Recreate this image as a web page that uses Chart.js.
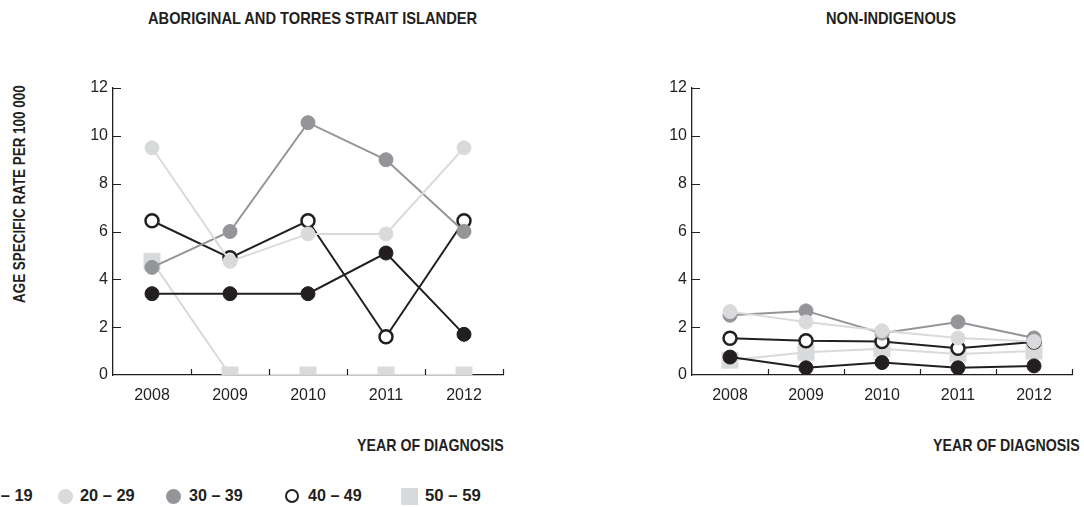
<!DOCTYPE html>
<html>
<head>
<meta charset="utf-8">
<script src="https://cdn.jsdelivr.net/npm/chart.js@4.4.1/dist/chart.umd.min.js"></script>
<style>
  body { margin: 0; background: #fff; width: 1084px; height: 507px; overflow: hidden; position: relative;
         font-family: "Liberation Sans", Arial, sans-serif; color: #231f20; }
  .box { position: absolute; }
  .ttl, .leg { position: absolute; font-weight: bold; font-size: 17px; line-height: 17px; white-space: nowrap; transform-origin: 0 0; }
  .mk { position: absolute; }
</style>
</head>
<body>
<div class="ttl" data-w="329" style="left:148px; top:10px;">ABORIGINAL AND TORRES STRAIT ISLANDER</div>
<div class="ttl" data-w="130" style="left:826px; top:10px;">NON-INDIGENOUS</div>
<div class="ttl" id="yTitle" data-w="218" data-rot="1" style="left:11px; top:303px;">AGE SPECIFIC RATE PER 100 000</div>
<div class="ttl" data-w="147" style="left:357px; top:437px;">YEAR OF DIAGNOSIS</div>
<div class="ttl" data-w="147" style="left:933px; top:437px;">YEAR OF DIAGNOSIS</div>

<div class="box" style="left:0; top:0; width:540px; height:420px;"><canvas id="leftChart"></canvas></div>
<div class="box" style="left:560px; top:0; width:524px; height:420px;"><canvas id="rightChart"></canvas></div>

<!-- legend -->
<div class="mk" style="left:-47px; top:489px; width:15px; height:15px; border-radius:50%; background:#231f20;"></div>
<div class="leg" data-w="55" style="left:-22px; top:487px;">10 – 19</div>
<div class="mk" style="left:58px; top:489px; width:15px; height:15px; border-radius:50%; background:#d9dadb;"></div>
<div class="leg" data-w="55" style="left:80px; top:487px;">20 – 29</div>
<div class="mk" style="left:166px; top:489px; width:15px; height:15px; border-radius:50%; background:#939598;"></div>
<div class="leg" data-w="54" style="left:189px; top:487px;">30 – 39</div>
<div class="mk" style="left:285px; top:489px; width:10px; height:10px; border-radius:50%; border:2.5px solid #231f20; background:#fff;"></div>
<div class="leg" data-w="54" style="left:308px; top:487px;">40 – 49</div>
<div class="mk" style="left:401px; top:488px; width:17px; height:17px; background:#d9dadb;"></div>
<div class="leg" data-w="56" style="left:425px; top:487px;">50 – 59</div>

<script>
const years = ['2008', '2009', '2010', '2011', '2012'];
const ageGroups = ['10 – 19', '20 – 29', '30 – 39', '40 – 49', '50 – 59'];
const yTicks = [0, 2, 4, 6, 8, 10, 12];

// Aboriginal and Torres Strait Islander
const atsi10to19 = [3.4, 3.4, 3.4, 5.1, 1.7];
const atsi20to29 = [9.5, 4.75, 5.9, 5.9, 9.5];
const atsi30to39 = [4.5, 6.0, 10.55, 9.0, 6.0];
const atsi40to49 = [6.45, 4.9, 6.45, 1.6, 6.45];
const atsi50to59 = [4.75, 0, 0, 0, 0];

// Non-Indigenous
const non10to19 = [0.75, 0.3, 0.52, 0.3, 0.38];
const non20to29 = [2.65, 2.22, 1.85, 1.55, 1.4];
const non30to39 = [2.5, 2.68, 1.75, 2.22, 1.55];
const non40to49 = [1.54, 1.43, 1.4, 1.12, 1.38];
const non50to59 = [0.62, 0.95, 1.1, 0.88, 1.0];

const BLACK = '#231f20';
const LIGHT = '#d9dadb';
const MID = '#939598';
const FONT = '"Liberation Sans", Arial, sans-serif';

// squeeze the bold labels to the condensed widths of the original
document.querySelectorAll('[data-w]').forEach(el => {
    const k = Number(el.dataset.w) / el.offsetWidth;
    el.style.transform = el.dataset.rot ? `rotate(-90deg) scaleX(${k})` : `scaleX(${k})`;
});

function buildDatasets(s10, s20, s30, s40, s50) {
    return [
        { label: ageGroups[0], data: s10, borderColor: BLACK, backgroundColor: BLACK, pointBackgroundColor: BLACK,
          pointBorderColor: BLACK, pointRadius: 7, pointBorderWidth: 1, order: 3 },
        { label: ageGroups[1], data: s20, borderColor: LIGHT, backgroundColor: LIGHT, pointBackgroundColor: LIGHT,
          pointBorderColor: LIGHT, pointRadius: 7, pointBorderWidth: 1, order: 1 },
        { label: ageGroups[2], data: s30, borderColor: MID, backgroundColor: MID, pointBackgroundColor: MID,
          pointBorderColor: MID, pointRadius: 7, pointBorderWidth: 1, order: 2 },
        { label: ageGroups[3], data: s40, borderColor: BLACK, backgroundColor: '#fff', pointBackgroundColor: '#fff',
          pointBorderColor: BLACK, pointRadius: 6.5, pointBorderWidth: 2.5, order: 4 },
        { label: ageGroups[4], data: s50, borderColor: LIGHT, backgroundColor: LIGHT, pointBackgroundColor: LIGHT,
          pointBorderColor: LIGHT, pointRadius: 12, pointStyle: 'rect', pointBorderWidth: 0, order: 5 }
    ];
}

// draw small tick marks pointing into the plot area
const innerTicks = {
    id: 'innerTicks',
    afterDraw(chart) {
        const ctx = chart.ctx;
        const x = chart.scales.x, y = chart.scales.y;
        const area = chart.chartArea;
        ctx.save();
        ctx.strokeStyle = BLACK;
        ctx.lineWidth = 1.2;
        ctx.beginPath();
        yTicks.forEach(v => {
            if (v === 0) return;
            const py = Math.round(y.getPixelForValue(v)) + 0.5;
            ctx.moveTo(area.left, py);
            ctx.lineTo(area.left + 8, py);
        });
        for (let i = 1; i <= years.length; i++) {
            const px = Math.round(x.getPixelForValue(i - 0.5)) + 0.5;
            ctx.moveTo(px, area.bottom);
            ctx.lineTo(px, area.bottom - 6);
        }
        ctx.stroke();
        ctx.restore();
    }
};

function makeChart(id, datasets, padLeft, padRight) {
    return new Chart(document.getElementById(id), {
        type: 'line',
        data: { labels: years, datasets: datasets },
        plugins: [innerTicks],
        options: {
            responsive: true,
            maintainAspectRatio: false,
            animation: false,
            layout: { padding: { left: padLeft, right: padRight, top: 88, bottom: 0 } },
            elements: { line: { borderWidth: 2, tension: 0 } },
            plugins: { legend: { display: false }, tooltip: { enabled: false } },
            scales: {
                x: {
                    offset: true,
                    grid: { display: false, drawTicks: false },
                    border: { display: true, color: BLACK, width: 1.3 },
                    ticks: { color: '#231f20', padding: 11, font: { family: FONT, size: 16 } },
                    afterFit: s => { s.height = 45; }
                },
                y: {
                    min: 0, max: 12,
                    grid: { display: false, drawTicks: false },
                    border: { display: true, color: BLACK, width: 1.3 },
                    ticks: { stepSize: 2, color: '#231f20', padding: 5, font: { family: FONT, size: 16 } },
                    afterFit: s => { s.width = 40; }
                }
            }
        }
    });
}

makeChart('leftChart', buildDatasets(atsi10to19, atsi20to29, atsi30to39, atsi40to49, atsi50to59), 73, 37);
makeChart('rightChart', buildDatasets(non10to19, non20to29, non30to39, non40to49, non50to59), 92, 7);
</script>
</body>
</html>
